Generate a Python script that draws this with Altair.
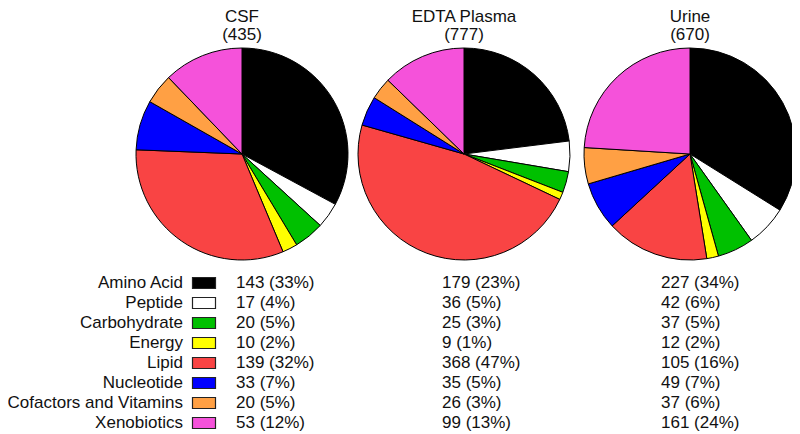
import altair as alt
import pandas as pd

categories = ["Amino Acid", "Peptide", "Carbohydrate", "Energy", "Lipid",
              "Nucleotide", "Cofactors and Vitamins", "Xenobiotics"]
colors = ["#000000", "#FFFFFF", "#00C000", "#FFFF00", "#F94444",
          "#0000FF", "#FFA044", "#F552DA"]
samples = ["CSF", "EDTA Plasma", "Urine"]
totals = [435, 777, 670]
csf_counts = [143, 17, 20, 10, 139, 33, 20, 53]
csf_pct = [33, 4, 5, 2, 32, 7, 5, 12]
edta_counts = [179, 36, 25, 9, 368, 35, 26, 99]
edta_pct = [23, 5, 3, 1, 47, 5, 3, 13]
urine_counts = [227, 42, 37, 12, 105, 49, 37, 161]
urine_pct = [34, 6, 5, 2, 16, 7, 6, 24]

rows = []
for s, cnts, pcts in zip(samples, [csf_counts, edta_counts, urine_counts],
                         [csf_pct, edta_pct, urine_pct]):
    for i, (c, n, p) in enumerate(zip(categories, cnts, pcts)):
        rows.append(dict(sample=s, category=c, idx=i, count=n, pct=p,
                         label=f"{n} ({p}%)"))
df = pd.DataFrame(rows)
titles = pd.DataFrame({"sample": samples, "total": totals})
titles["line2"] = "(" + titles["total"].astype(str) + ")"

FONT = "Liberation Sans"
FS = 17
pie_x = [234, 456, 682]
pie_y = 146
count_x = [228, 434, 653]

base = alt.Chart(df)
color = alt.Color("category:N", scale=alt.Scale(domain=categories, range=colors), legend=None)
ypos = alt.Y("category:N", sort=categories,
             scale=alt.Scale(type="point", range=[275, 415], padding=0), axis=None)

layers = []
for s, px, cx in zip(samples, pie_x, count_x):
    sub = base.transform_filter(alt.datum.sample == s)
    layers.append(sub.mark_arc(radius=106, stroke="black", strokeWidth=1).encode(
        theta=alt.Theta("count:Q", stack="normalize"),
        order=alt.Order("idx:Q"),
        color=color,
        x=alt.value(px), y=alt.value(pie_y)))
    layers.append(sub.mark_text(align="left", baseline="middle", font=FONT,
                                fontSize=FS, color="#111").encode(
        x=alt.value(cx), y=ypos, text="label:N"))
    tsub = alt.Chart(titles).transform_filter(alt.datum.sample == s)
    layers.append(tsub.mark_text(align="center", baseline="middle", font=FONT,
                                 fontSize=FS, color="#111").encode(
        x=alt.value(px), y=alt.value(9), text="sample:N"))
    layers.append(tsub.mark_text(align="center", baseline="middle", font=FONT,
                                 fontSize=FS, color="#111").encode(
        x=alt.value(px), y=alt.value(27), text="line2:N"))

csf_only = base.transform_filter(alt.datum.sample == "CSF")
layers.append(csf_only.mark_text(align="right", baseline="middle", font=FONT,
                                 fontSize=FS, color="#111").encode(
    x=alt.value(175), y=ypos, text="category:N"))
layers.append(csf_only.mark_point(
    shape="M-1,-0.48L1,-0.48L1,0.48L-1,0.48Z", filled=True, opacity=1,
    stroke="#222", strokeWidth=1.2, size=529).encode(
    x=alt.value(196), y=ypos, fill=color))

chart = alt.layer(*layers).properties(
    width=784, height=426, padding=0,
    autosize=alt.AutoSizeParams(type="none")
).configure_view(stroke=None)

chart.save("out.html", embed_options={"renderer": "svg", "actions": False})
